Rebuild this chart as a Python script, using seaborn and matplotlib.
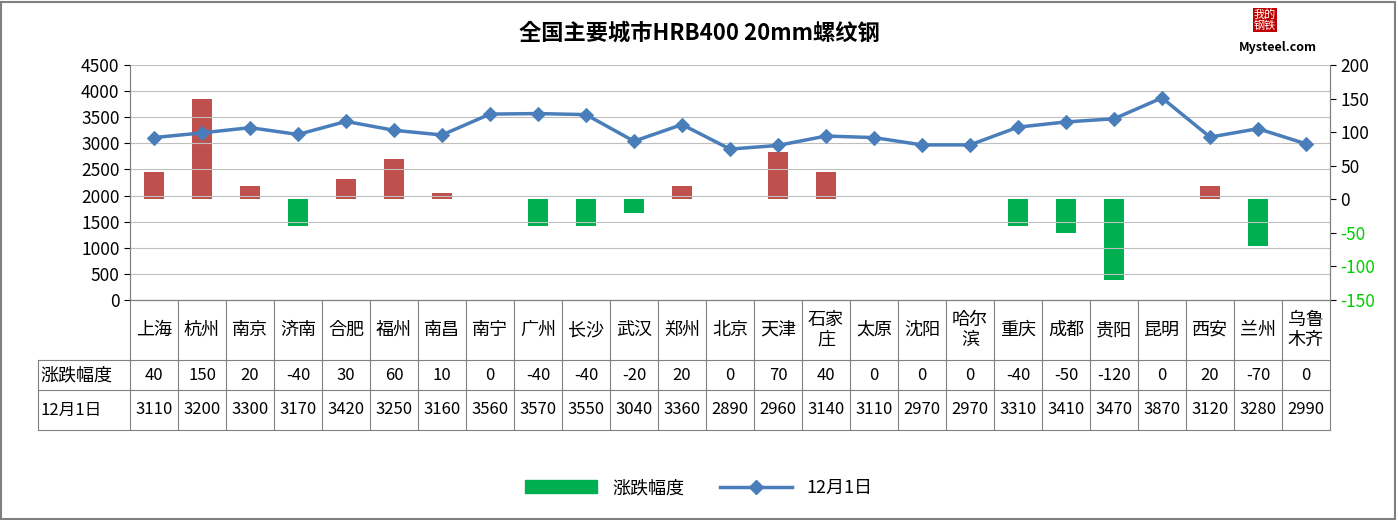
import matplotlib
matplotlib.use("Agg")
import matplotlib.pyplot as plt
import matplotlib.transforms as mtransforms
from matplotlib import font_manager
from matplotlib.patches import Rectangle
from matplotlib.lines import Line2D
import seaborn as sns
import pandas as pd
import numpy as np

cjk = [f.name for f in font_manager.fontManager.ttflist if "CJK" in f.name and "Sans" in f.name]
pref = [n for n in cjk if n.endswith("SC")] or cjk
plt.rcParams["font.family"] = "sans-serif"
plt.rcParams["font.sans-serif"] = (pref[:1] if pref else []) + ["DejaVu Sans"]
plt.rcParams["axes.unicode_minus"] = False

cities = ["上海","杭州","南京","济南","合肥","福州","南昌","南宁","广州","长沙","武汉","郑州",
          "北京","天津","石家\n庄","太原","沈阳","哈尔\n滨","重庆","成都","贵阳","昆明","西安","兰州","乌鲁\n木齐"]
change = [40,150,20,-40,30,60,10,0,-40,-40,-20,20,0,70,40,0,0,0,-40,-50,-120,0,20,-70,0]
price = [3110,3200,3300,3170,3420,3250,3160,3560,3570,3550,3040,3360,2890,2960,3140,3110,2970,2970,
         3310,3410,3470,3870,3120,3280,2990]

df = pd.DataFrame({"x": np.arange(len(cities)), "change": change, "price": price})

fig = plt.figure(figsize=(13.98, 5.2), dpi=100)
W, H = 1398, 520
ax = fig.add_axes([130/W, 1-300/H, 1200/W, 235/H])
ax2 = ax.twinx()

red, green, blue = "#C0504D", "#00B050", "#4A7EBB"
cols = [red if v > 0 else green for v in change]
ax2.bar(df["x"], df["change"], width=0.42, color=cols, zorder=2)
ax2.set_ylim(-150, 200)
ax2.set_yticks(range(-150, 201, 50))
for t, v in zip(ax2.get_yticklabels(), range(-150, 201, 50)):
    t.set_color("#00D000" if v < 0 else "black")

sns.lineplot(data=df, x="x", y="price", ax=ax, color=blue, marker="D", markersize=7,
             linewidth=2.5, markeredgecolor=blue, zorder=5)
ax.set_zorder(ax2.get_zorder() + 1)
ax.patch.set_visible(False)
ax.set_ylim(0, 4500)
ax.set_yticks(range(0, 4501, 500))
ax.yaxis.grid(True, color="#BFBFBF", linewidth=0.8)
ax.set_xlim(-0.5, len(cities) - 0.5)
ax.set_xticks([])
ax.set_xlabel(""); ax.set_ylabel("")
for a in (ax, ax2):
    a.tick_params(labelsize=12.5, length=4)
    for s in a.spines.values():
        s.set_color("#808080")
ax.spines["top"].set_visible(False)
ax2.spines["top"].set_visible(False)

tr = mtransforms.blended_transform_factory(ax.transData, ax.transAxes)
ys = [0, -60/235, -90/235, -130/235]
xl = -0.5 - 92/48
n = len(cities)
lc = "#808080"
for y in ys[1:]:
    ax.add_line(Line2D([xl, n-0.5], [y, y], transform=tr, color=lc, lw=0.8, clip_on=False))
ax.add_line(Line2D([xl, xl], [ys[1], ys[3]], transform=tr, color=lc, lw=0.8, clip_on=False))
for i in range(n + 1):
    ax.add_line(Line2D([i-0.5, i-0.5], [0, ys[3]], transform=tr, color=lc, lw=0.8, clip_on=False))
for i in range(n):
    ax.text(i, (ys[0]+ys[1])/2, cities[i], transform=tr, ha="center", va="center", fontsize=13, linespacing=1.1)
    ax.text(i, (ys[1]+ys[2])/2, str(change[i]), transform=tr, ha="center", va="center", fontsize=12)
    ax.text(i, (ys[2]+ys[3])/2, str(price[i]), transform=tr, ha="center", va="center", fontsize=12)
ax.text(xl + 0.05, (ys[1]+ys[2])/2, "涨跌幅度", transform=tr, ha="left", va="center", fontsize=13)
ax.text(xl + 0.05, (ys[2]+ys[3])/2, "12月1日", transform=tr, ha="left", va="center", fontsize=12)

fig.text(0.5, 1-33/H, "全国主要城市HRB400 20mm螺纹钢", ha="center", va="center", fontsize=16, fontweight="bold")
fig.text(1265/W, 1-20/H, "我的\n钢铁", ha="center", va="center", fontsize=8, color="white",
         linespacing=1.0, bbox=dict(facecolor="#C00000", edgecolor="none", pad=1))
fig.text(1278/W, 1-48/H, "Mysteel.com", ha="center", va="center", fontsize=9, fontweight="bold")

handles = [Rectangle((0, 0), 1, 1, color=green),
           Line2D([], [], color=blue, marker="D", lw=2.5, markersize=7)]
fig.legend(handles, ["涨跌幅度", "12月1日"], loc="center", bbox_to_anchor=(0.5, 1-488/H), ncol=2,
           frameon=False, fontsize=13, handlelength=4, columnspacing=2)
fig.add_artist(Rectangle((0.001, 0.002), 0.997, 0.995, transform=fig.transFigure, fill=False,
                         edgecolor="#808080", lw=1.5))
fig.savefig("out.png", dpi=100)
